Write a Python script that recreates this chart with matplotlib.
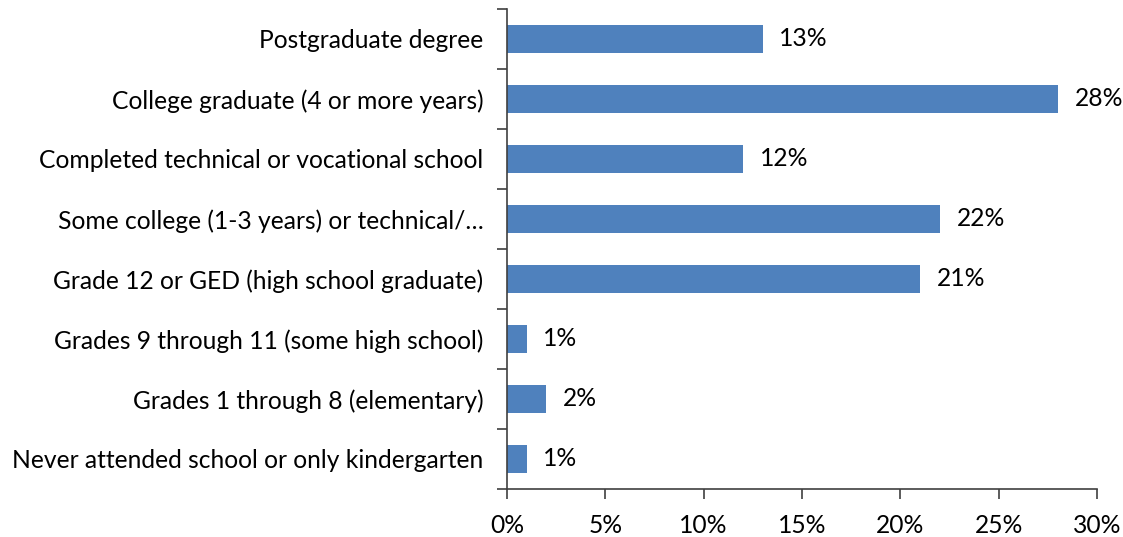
import matplotlib
matplotlib.use("Agg")
import matplotlib.pyplot as plt
from matplotlib.ticker import FixedLocator

categories = [
    "Never attended school or only kindergarten",
    "Grades 1 through 8 (elementary)",
    "Grades 9 through 11 (some high school)",
    "Grade 12 or GED (high school graduate)",
    "Some college (1-3 years) or technical/…",
    "Completed technical or vocational school",
    "College graduate (4 or more years)",
    "Postgraduate degree",
]
values = [1, 2, 1, 21, 22, 12, 28, 13]
xticks = [0, 5, 10, 15, 20, 25, 30]
xtick_labels = ["0%", "5%", "10%", "15%", "20%", "25%", "30%"]

FS = 17.7
plt.rcParams['font.family'] = ['Lato', 'DejaVu Sans']
fig = plt.figure(figsize=(11.23, 5.37), dpi=100)
ax = fig.add_axes([507/1123, 1-489/537, 590/1123, 480/537])

y = list(range(len(categories)))
ax.barh(y, values, height=0.48, color="#4F81BD", zorder=2)
for yi, v in zip(y, values):
    ax.text(v + 0.85, yi, f"{v}%", va="center", ha="left", fontsize=FS, color="black")

ax.set_xlim(0, 30)
ax.set_ylim(-0.5, len(categories) - 0.5)
ax.set_xticks(xticks)
ax.set_xticklabels(xtick_labels, fontsize=FS)
ax.set_yticks(y)
ax.set_yticklabels(categories, fontsize=FS)
ax.tick_params(axis="y", which="major", length=0, pad=17)
ax.yaxis.set_minor_locator(FixedLocator([i - 0.5 for i in range(len(categories) + 1)]))
ax.tick_params(axis="y", which="minor", length=7, width=1.2, color="#404040", direction="out")
ax.tick_params(axis="x", length=7, width=1.2, color="#404040", direction="out", pad=11)
for s in ["top", "right"]:
    ax.spines[s].set_visible(False)
for s in ["left", "bottom"]:
    ax.spines[s].set_color("#404040")
    ax.spines[s].set_linewidth(1.2)

fig.savefig("out.png", dpi=100)
